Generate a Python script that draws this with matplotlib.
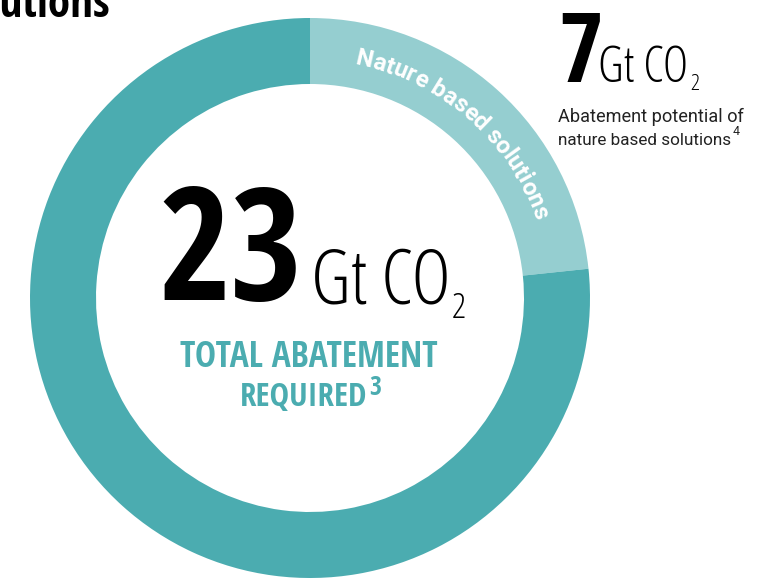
import numpy as np
import matplotlib
matplotlib.use("Agg")
import matplotlib.pyplot as plt

# chart data
segment_names = ["Nature based solutions", "Other abatement"]
segment_values = [7, 23]
total_label = "23"
nature_label = "7"
unit_label = "Gt CO"

dark_teal = "#4BACB0"
light_teal = "#95CED0"

W, H = 759, 581
bold_narrow = dict(family=["Open Sans Condensed", "DejaVu Sans"], fontweight="bold")
light_narrow = dict(family=["Open Sans", "DejaVu Sans"], fontstretch="condensed",
                    fontweight=300)
plain = dict(family=["Roboto", "DejaVu Sans"])

fig = plt.figure(figsize=(W / 100, H / 100), dpi=100)
ax = fig.add_axes([0, 0, 1, 1])

# donut: light slice starts at 12 o'clock and runs clockwise
cx, cy = 310, H - 298
ax.pie(segment_values, startangle=90, counterclock=False, radius=280,
       center=(cx, cy), colors=[light_teal, dark_teal],
       wedgeprops=dict(width=66, linewidth=0))
ax.set_xlim(0, W)
ax.set_ylim(0, H)
ax.set_aspect("equal")
ax.axis("off")

renderer = fig.canvas.get_renderer()


def text_width(s, **kw):
    t = ax.text(0, 0, s, **kw)
    w = t.get_window_extent(renderer).width
    t.remove()
    return w


def fit_size(s, width, **kw):
    # font size that makes the string about `width` pixels wide
    return 20 * width / text_width(s, fontsize=20, **kw)


def curved_text(text, radius, mid_deg, arc_len, **kw):
    # place characters one by one along the ring (angles clockwise from top)
    size = fit_size(text, arc_len, **kw)
    bar = text_width("|", fontsize=size, **kw)
    adv = [text_width(text[:i] + "|", fontsize=size, **kw) - bar
           for i in range(len(text) + 1)]
    total = adv[-1]
    for i, ch in enumerate(text):
        if ch == " ":
            continue
        s = (adv[i] + adv[i + 1]) / 2 - total / 2
        th = np.radians(mid_deg) + s / radius
        x = cx + radius * np.sin(th)
        y = cy + radius * np.cos(th)
        ax.text(x, y, ch, rotation=-np.degrees(th), rotation_mode="anchor",
                ha="center", va="baseline", fontsize=size, **kw)


def fit_text(x0, x1, ybase, s, ha="left", **kw):
    size = fit_size(s, x1 - x0, **kw)
    x = x0 if ha == "left" else (x0 + x1) / 2 if ha == "center" else x1
    return ax.text(x, H - ybase, s, ha=ha, va="baseline", fontsize=size, **kw)


curved_text(segment_names[0], 238, 41, 250, color="white", fontweight="bold",
            family=["Roboto", "DejaVu Sans"])

# cut-off title in the top left corner
size = fit_size("utions", 110, **bold_narrow)
ax.text(110, H - 17, "Solutions", ha="right", va="baseline", fontsize=size,
        color="black", **bold_narrow)

# centre labels
fit_text(158, 303, 300, total_label, color="black", **bold_narrow)
fit_text(311, 450, 303, unit_label, color="black", **light_narrow)
fit_text(452, 466, 318, "2", color="black", **light_narrow)
fit_text(180, 437, 367, "TOTAL ABATEMENT", ha="center", color=dark_teal,
         **bold_narrow)
fit_text(240, 367, 406, "REQUIRED", color=dark_teal, **bold_narrow)
fit_text(369, 381, 395, "3", color=dark_teal, **bold_narrow)

# nature based solutions callout, top right
fit_text(558, 603, 82, nature_label, color="black", **bold_narrow)
fit_text(598, 688, 82, unit_label, color="black", **light_narrow)
fit_text(690, 699, 90, "2", color="black", **light_narrow)
fit_text(558, 743, 122, "Abatement potential of", color="#222222", **plain)
fit_text(558, 731, 145, "nature based solutions", color="#222222", **plain)
fit_text(733, 740, 135, "4", color="#222222", **plain)

fig.savefig("out.png", dpi=100)
